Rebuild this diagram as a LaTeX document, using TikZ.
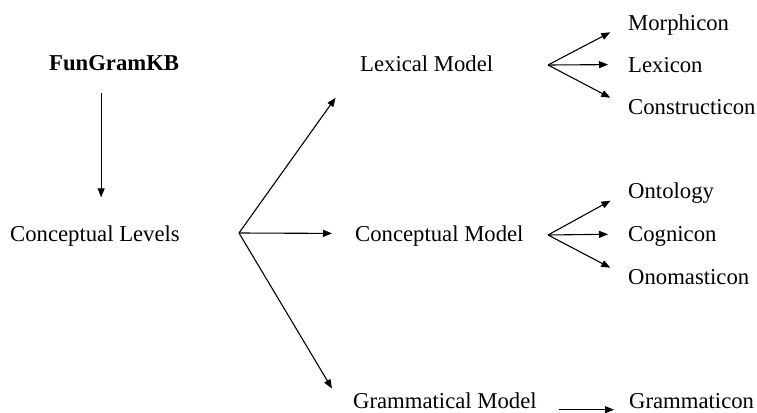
\documentclass[tikz,border=0pt]{standalone}
\usepackage{fontspec}
\setmainfont{Liberation Serif}
\usetikzlibrary{arrows.meta}

\begin{document}
\begin{tikzpicture}[x=1pt,y=-1pt,
        word/.style={anchor=west,inner sep=0pt,text height=15pt,text depth=0pt,
            font=\fontsize{22.7}{26}\selectfont},
        arr/.style={-{Triangle[length=9pt,width=7pt]},line width=1.1pt}]
    \useasboundingbox (0,0) rectangle (757,412);

    \node[word] (fgkb) at (49,63) {\bfseries FunGramKB};
    \node[word] (cl) at (10,234) {Conceptual Levels};

    \node[word] (lexm) at (360,63.5) {Lexical Model};
    \node[word] (conm) at (355,233.5) {Conceptual Model};
    \node[word] (gram) at (353,401) {Grammatical Model};

    \node[word] (morph) at (628,23) {Morphicon};
    \node[word] (lexi) at (628,64.5) {Lexicon};
    \node[word] (cons) at (628,107) {Constructicon};
    \node[word] (onto) at (628,191) {Ontology};
    \node[word] (cogn) at (628,234) {Cognicon};
    \node[word] (onom) at (628,277) {Onomasticon};
    \node[word] (grcon) at (629,401) {Grammaticon};

    \coordinate (fork) at (239,233);
    \coordinate (lexfork) at (548,65);
    \coordinate (confork) at (548,235);

    \draw[arr,shorten <=22pt,shorten >=29pt] ([xshift=-13pt]fgkb.south) -- ([xshift=-13pt]fgkb.south |- cl.north);

    \draw[arr,shorten >=42pt] (fork) -- (lexm.west);
    \draw[arr,shorten >=23pt] (fork) -- (conm.west);
    \draw[arr,shorten >=41pt] (fork) -- ([yshift=-15pt]gram.south west);

    \draw[arr,shorten >=20pt] (lexfork) -- (morph.west);
    \draw[arr,shorten >=20pt] (lexfork) -- (lexi.west);
    \draw[arr,shorten >=20pt] (lexfork) -- (cons.west);

    \draw[arr,shorten >=20pt] (confork) -- (onto.west);
    \draw[arr,shorten >=20pt] (confork) -- (cogn.west);
    \draw[arr,shorten >=20pt] (confork) -- (onom.west);

    \draw[arr,shorten <=22pt,shorten >=15pt] ([yshift=-1pt]gram.south east) -- ([yshift=-1pt]grcon.south west);
\end{tikzpicture}
\end{document}
